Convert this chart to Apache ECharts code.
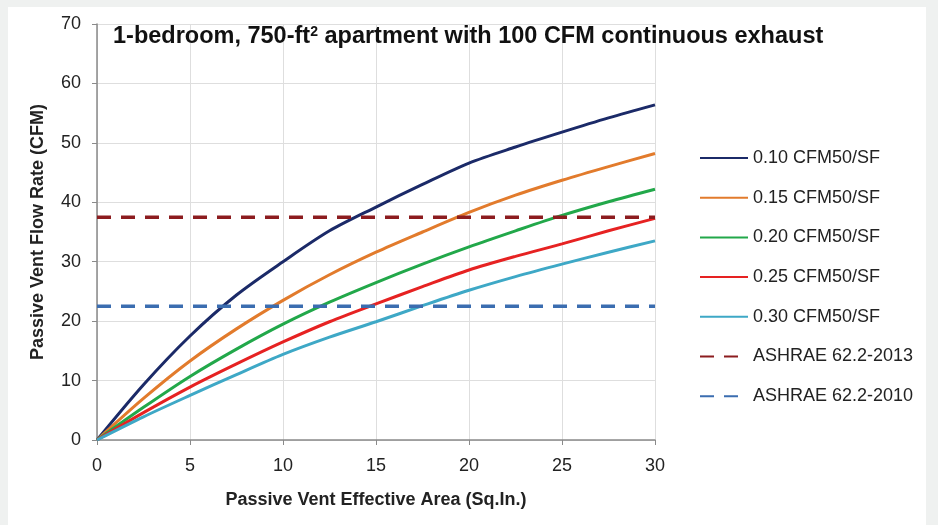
<!DOCTYPE html>
<html>
<head>
<meta charset="utf-8">
<script src="https://cdn.jsdelivr.net/npm/echarts@6/dist/echarts.min.js"></script>
<style>
  html, body { margin: 0; padding: 0; background: #eff1f0; }
  #chart { width: 938px; height: 525px; }
</style>
</head>
<body>
<div id="chart"></div>
<script>
// passive vent effective area (sq.in.)
const areaX = [0, 2.5, 5, 7.5, 10, 12.5, 15, 17.5, 20, 22.5, 25, 27.5, 30];
// flow rate (CFM) per leakage level
const cfm010 = [0, 9.3, 17.5, 24.4, 30, 35.2, 39.2, 43, 46.6, 49.3, 51.8, 54.2, 56.4];
const cfm015 = [0, 7, 13.3, 18.7, 23.5, 27.8, 31.6, 35, 38.3, 41.2, 43.7, 46, 48.2];
const cfm020 = [0, 5.5, 10.7, 15.3, 19.5, 23.2, 26.5, 29.6, 32.5, 35.2, 37.8, 40.1, 42.2];
const cfm025 = [0, 4.6, 8.9, 12.8, 16.5, 19.9, 22.9, 25.8, 28.6, 30.9, 33, 35.2, 37.3];
const cfm030 = [0, 3.9, 7.5, 11, 14.4, 17.3, 19.9, 22.6, 25.2, 27.5, 29.6, 31.6, 33.5];
const ashrae2013 = 37.5;
const ashrae2010 = 22.5;

const seriesNames = ['0.10 CFM50/SF', '0.15 CFM50/SF', '0.20 CFM50/SF', '0.25 CFM50/SF', '0.30 CFM50/SF',
  'ASHRAE 62.2-2013', 'ASHRAE 62.2-2010'];
const xTicks = [0, 5, 10, 15, 20, 25, 30];
const yTicks = [0, 10, 20, 30, 40, 50, 60, 70];

const font = '"Liberation Sans", sans-serif';

function pairs(ys) {
  return areaX.map((x, i) => [x, ys[i]]);
}
function flat(v) {
  return [[xTicks[0], v], [xTicks[xTicks.length - 1], v]];
}

const curveColors = ['#1b2a68', '#e27b2c', '#22a84a', '#e62222', '#3ea8c6'];
const curves = [cfm010, cfm015, cfm020, cfm025, cfm030];

const series = curves.map((c, i) => ({
  name: seriesNames[i],
  type: 'line',
  symbol: 'none',
  smooth: 0.3,
  data: pairs(c),
  lineStyle: { color: curveColors[i], width: 3 },
  itemStyle: { color: curveColors[i] },
  z: 3
}));
series.push({
  name: seriesNames[5], type: 'line', symbol: 'none', data: flat(ashrae2013),
  lineStyle: { color: '#8c1c1f', width: 3.5, type: [14, 10] },
  itemStyle: { color: '#8c1c1f' }, z: 4
});
series.push({
  name: seriesNames[6], type: 'line', symbol: 'none', data: flat(ashrae2010),
  lineStyle: { color: '#3b6db0', width: 3.5, type: [14, 10] },
  itemStyle: { color: '#3b6db0' }, z: 4
});

const chart = echarts.init(document.getElementById('chart'));
chart.setOption({
  animation: false,
  textStyle: { fontFamily: font },
  graphic: [{
    type: 'rect', left: 8, top: 7, z: -10,
    shape: { width: 918, height: 518 },
    style: { fill: '#ffffff' }
  }],
  title: {
    text: '1-bedroom, 750-ft{sup|2} apartment with 100 CFM continuous exhaust',
    left: 108, top: 20,
    textStyle: {
      fontFamily: font, fontSize: 23.5, fontWeight: 'bold', color: '#111',
      rich: { sup: { fontFamily: font, fontSize: 14, fontWeight: 'bold', color: '#111', verticalAlign: 'top', padding: [0, 0, 10, 0] } }
    }
  },
  grid: { left: 97, right: 283, top: 24, bottom: 85 },
  legend: {
    orient: 'vertical', left: 694, top: 144,
    itemWidth: 48, itemHeight: 14, itemGap: 21.7,
    itemStyle: { opacity: 0 },
    textStyle: { fontFamily: font, fontSize: 18, color: '#222' },
    data: seriesNames
  },
  xAxis: {
    type: 'value', min: 0, max: 30, interval: 5,
    name: 'Passive Vent Effective Area (Sq.In.)',
    nameLocation: 'middle', nameGap: 51,
    nameTextStyle: { fontFamily: font, fontSize: 18, fontWeight: 'bold', color: '#222' },
    axisLine: { show: true, lineStyle: { color: '#8a8a8a', width: 1.5 } },
    axisTick: { show: true, inside: false, length: 5, lineStyle: { color: '#8a8a8a' } },
    axisLabel: { fontSize: 18, color: '#222', margin: 17, fontFamily: font },
    splitLine: { show: true, lineStyle: { color: '#dedede', width: 1 } }
  },
  yAxis: {
    type: 'value', min: 0, max: 70, interval: 10,
    name: 'Passive Vent Flow Rate (CFM)',
    nameLocation: 'middle', nameGap: 50,
    nameTextStyle: { fontFamily: font, fontSize: 18, fontWeight: 'bold', color: '#222' },
    axisLine: { show: true, lineStyle: { color: '#8a8a8a', width: 1.5 } },
    axisTick: { show: true, inside: false, length: 5, lineStyle: { color: '#8a8a8a' } },
    axisLabel: { fontSize: 18, color: '#222', margin: 16, fontFamily: font },
    splitLine: { show: true, lineStyle: { color: '#dedede', width: 1 } }
  },
  series: series
});
</script>
</body>
</html>
